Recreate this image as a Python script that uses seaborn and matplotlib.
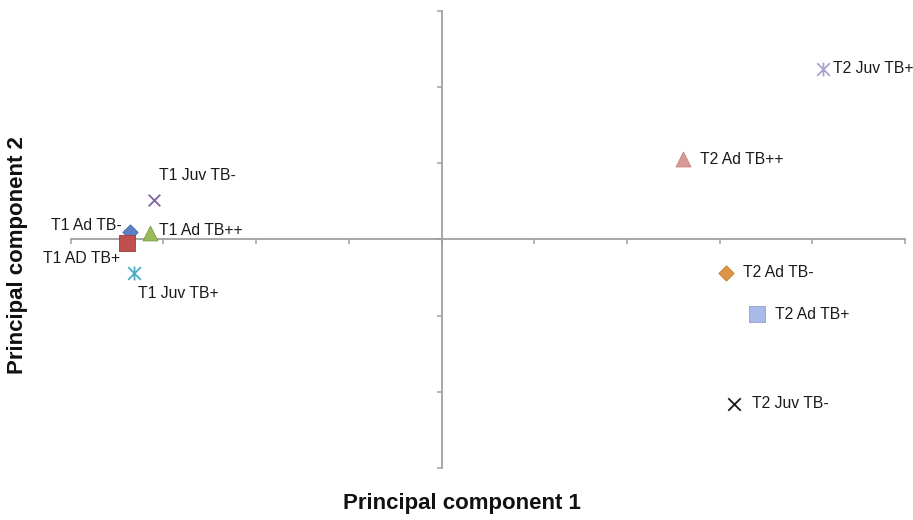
import matplotlib
matplotlib.use("Agg")
import matplotlib.pyplot as plt
from matplotlib.path import Path
import seaborn as sns
import pandas as pd

# PCA scores for each sample group
labels = ["T1 Ad TB-", "T1 AD TB+", "T1 Ad TB++", "T1 Juv TB-", "T1 Juv TB+",
          "T2 Ad TB-", "T2 Ad TB+", "T2 Ad TB++", "T2 Juv TB-", "T2 Juv TB+"]
pc1 = [-3.36, -3.39, -3.14, -3.10, -3.32, 3.07, 3.40, 2.60, 3.15, 4.12]
pc2 = [0.09, -0.05, 0.08, 0.52, -0.44, -0.44, -0.98, 1.05, -2.16, 2.24]

sns.set_theme(style="white")
plt.rcParams["font.family"] = ["Liberation Sans", "DejaVu Sans"]

# asterisk marker: an X crossed by a vertical stroke
star = Path([(-1, -1), (1, 1), (-1, 1), (1, -1), (0, -1.1), (0, 1.1)],
            [Path.MOVETO, Path.LINETO, Path.MOVETO, Path.LINETO, Path.MOVETO, Path.LINETO])

styles = {
    "T1 Ad TB-":  dict(marker="D", color="#5a82c8", s=60, edge="#3f66a8", off=(-8, 7), ha="right"),
    "T1 AD TB+":  dict(marker="s", color="#c0504d", s=125, edge="#9c3d3a", off=(-7, -15), ha="right"),
    "T1 Ad TB++": dict(marker="^", color="#9bbb59", s=115, edge="#7f9c44", off=(9, 3), ha="left"),
    "T1 Juv TB-": dict(marker="x", color="#8064a2", s=70, edge="#8064a2", off=(5, 24), ha="left"),
    "T1 Juv TB+": dict(marker=star, color="#4bacc6", s=100, edge="#4bacc6", off=(4, -21), ha="left"),
    "T2 Ad TB-":  dict(marker="D", color="#dc9446", s=60, edge="#c07a30", off=(17, 0), ha="left"),
    "T2 Ad TB+":  dict(marker="s", color="#a9b9e8", s=125, edge="#8e9fd0", off=(18, 0), ha="left"),
    "T2 Ad TB++": dict(marker="^", color="#d89a98", s=115, edge="#c08280", off=(17, 0), ha="left"),
    "T2 Juv TB-": dict(marker="x", color="#1a1a1a", s=80, edge="#1a1a1a", off=(18, 0), ha="left"),
    "T2 Juv TB+": dict(marker=star, color="#a9a3cf", s=100, edge="#a9a3cf", off=(10, 0), ha="left"),
}

df = pd.DataFrame({"label": labels, "pc1": pc1, "pc2": pc2})

fig = plt.figure(figsize=(9.13, 5.20), dpi=100)
ax = fig.add_axes([70.7 / 913, 52 / 520, 834.3 / 913, 457.3 / 520])

for _, row in df.iterrows():
    st = styles[row["label"]]
    unfilled = st["marker"] == "x" or st["marker"] is star
    sns.scatterplot(data=df[df["label"] == row["label"]], x="pc1", y="pc2", ax=ax,
                    marker=st["marker"], s=st["s"],
                    color=st["color"], edgecolor=st["edge"],
                    linewidth=1.3 if unfilled else 0.6, zorder=3, legend=False)
    ax.annotate(row["label"], (row["pc1"], row["pc2"]), xytext=st["off"],
                textcoords="offset pixels", ha=st["ha"], va="center",
                fontsize=11.3, color="#1a1a1a", zorder=4, annotation_clip=False)

ax.set_xlim(-4, 5)
ax.set_ylim(-3, 3)
ax.set_xticks(range(-4, 6))
ax.set_yticks(range(-3, 4))
ax.set_xticklabels([])
ax.set_yticklabels([])
for side in ("top", "right"):
    ax.spines[side].set_visible(False)
for side in ("left", "bottom"):
    ax.spines[side].set_position(("data", 0))
    ax.spines[side].set_color("#a0a0a0")
    ax.spines[side].set_linewidth(1.3)
ax.tick_params(axis="both", direction="out", length=3.5, width=1.1,
               colors="#a0a0a0", bottom=True, left=True)
ax.set_xlabel("")
ax.set_ylabel("")
ax.set_facecolor("white")

fig.text(462 / 913, 1 - 503 / 520, "Principal component 1", ha="center", va="center",
         fontsize=16, fontweight="bold", color="#111111")
fig.text(18 / 913, 1 - 255 / 520, "Principal component 2", ha="center", va="center",
         rotation=90, fontsize=16, fontweight="bold", color="#111111")

fig.savefig("out.png", dpi=100, facecolor="white")
